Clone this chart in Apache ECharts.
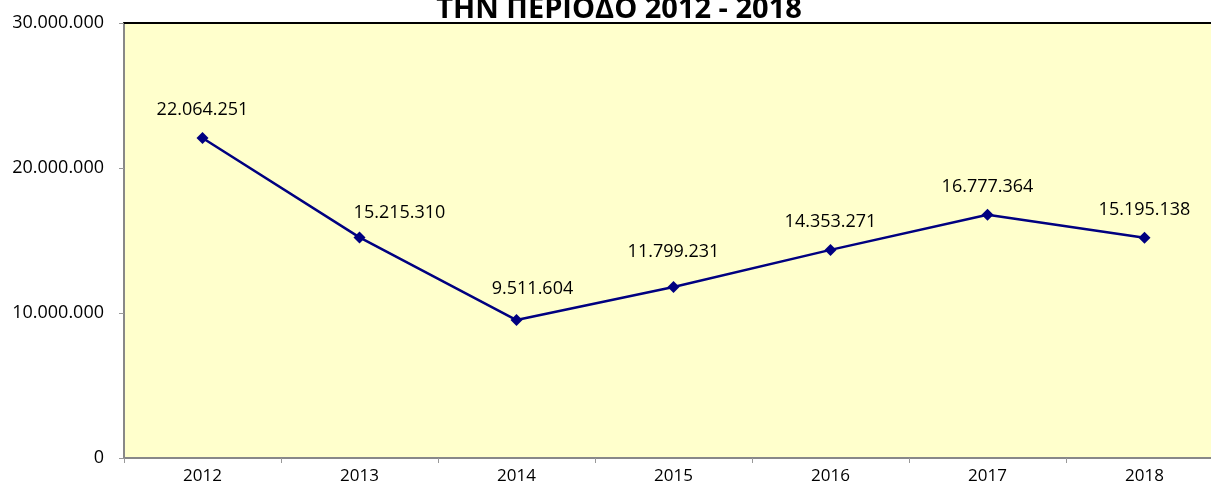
<!DOCTYPE html>
<html>
<head>
<meta charset="utf-8">
<script src="https://cdn.jsdelivr.net/npm/echarts@6/dist/echarts.min.js"></script>
<style>
  html, body { margin: 0; padding: 0; background: #fff; }
  #chart { width: 1211px; height: 491px; }
</style>
</head>
<body>
<div id="chart"></div>
<script>
const years = ['2012', '2013', '2014', '2015', '2016', '2017', '2018']
const values = [22064251, 15215310, 9511604, 11799231, 14353271, 16777364, 15195138]
const yTicks = [0, 10000000, 20000000, 30000000]

const fmt = v => String(v).replace(/\B(?=(\d{3})+(?!\d))/g, '.')

// labels that were nudged by hand in the original
const labelNudge = { 1: [40, 3], 2: [16, -3], 3: [0, -7] }

const chart = echarts.init(document.getElementById('chart'))
const font = '"Open Sans", "DejaVu Sans", sans-serif'

chart.setOption({
  animation: false,
  title: {
    text: 'ΤΗΝ ΠΕΡΙΟΔΟ 2012 - 2018',
    left: 614,
    textAlign: 'center',
    top: -10,
    textStyle: { fontFamily: font, fontSize: 29, fontWeight: 'bold', color: '#000' }
  },
  grid: {
    left: 124,
    top: 23,
    width: 1099,
    height: 435,
    outerBoundsMode: 'none',
    containLabel: false,
    show: true,
    backgroundColor: '#FFFFCC',
    borderWidth: 0
  },
  xAxis: [
    {
      type: 'category',
      data: years,
      boundaryGap: true,
      axisLine: { lineStyle: { color: '#888', width: 2 } },
      axisTick: { show: true, length: 5, lineStyle: { color: '#999', width: 1 } },
      axisLabel: { fontFamily: font, fontSize: 17, color: '#000', margin: 10 },
      splitLine: { show: false }
    },
    {
      type: 'category',
      position: 'top',
      data: years,
      axisLine: { lineStyle: { color: '#000', width: 2 } },
      axisTick: { show: false },
      axisLabel: { show: false }
    }
  ],
  yAxis: {
    type: 'value',
    min: yTicks[0],
    max: yTicks[yTicks.length - 1],
    interval: yTicks[1] - yTicks[0],
    axisLine: { show: true, lineStyle: { color: '#888', width: 2 } },
    axisTick: { show: true, length: 5, lineStyle: { color: '#999' } },
    splitLine: { show: false },
    axisLabel: {
      fontFamily: font,
      fontSize: 18,
      color: '#000',
      margin: 20,
      formatter: v => fmt(v)
    }
  },
  series: [
    {
      type: 'line',
      data: values.map((v, i) => labelNudge[i] ? { value: v, label: { offset: labelNudge[i] } } : v),
      symbol: 'diamond',
      symbolSize: 12,
      lineStyle: { color: '#000080', width: 2.5 },
      itemStyle: { color: '#000080' },
      label: {
        show: true,
        position: 'top',
        distance: 13,
        fontFamily: font,
        fontSize: 18,
        color: '#000',
        formatter: p => fmt(p.value)
      }
    }
  ]
})
</script>
</body>
</html>
